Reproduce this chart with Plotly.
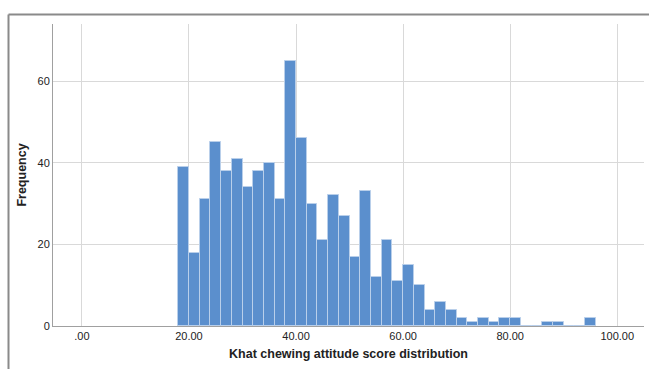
import plotly.graph_objects as go

bin_lefts = [18, 20, 22, 24, 26, 28, 30, 32, 34, 36, 38, 40, 42, 44, 46, 48, 50,
             52, 54, 56, 58, 60, 62, 64, 66, 68, 70, 72, 74, 76, 78, 80, 82, 84,
             86, 88, 90, 92, 94]
counts = [39, 18, 31, 45, 38, 41, 34, 38, 40, 31, 65, 46, 30, 21, 32, 27, 17,
          33, 12, 21, 11, 15, 10, 4, 6, 4, 2, 1, 2, 1, 2, 2, 0, 0,
          1, 1, 0, 0, 2]
bin_width = 2
x_tick_vals = [0, 20, 40, 60, 80, 100]
x_tick_text = [".00", "20.00", "40.00", "60.00", "80.00", "100.00"]
y_tick_vals = [0, 20, 40, 60]

centers = [b + bin_width / 2 for b in bin_lefts]

fig = go.Figure()
fig.add_trace(go.Bar(
    x=centers, y=counts, width=[bin_width] * len(centers),
    marker=dict(color="#5B8FCD", line=dict(color="#B9CFEA", width=1)),
    showlegend=False,
))

W, H = 649, 369
l, r, t, b = 53, 5, 24, 43
pw, ph = W - l - r, H - t - b
fx = (8.5 - l) / pw
fy = (H - b - 14.5) / ph

fig.update_layout(
    width=W, height=H,
    margin=dict(l=l, r=r, t=t, b=b, autoexpand=False),
    paper_bgcolor="white", plot_bgcolor="white",
    font=dict(family="Liberation Sans, Arial, sans-serif", size=11, color="#222"),
    bargap=0,
    xaxis=dict(range=[-5.4, 105], tickvals=x_tick_vals, ticktext=x_tick_text,
               showgrid=True, gridcolor="#D9D9D9", gridwidth=1,
               showline=True, linecolor="#A0A0A0", linewidth=1,
               zeroline=False, ticks="", ticklen=0, automargin=False,
               title=dict(text="<b>Khat chewing attitude score distribution</b>",
                          font=dict(size=12.5, color="#222"), standoff=8)),
    yaxis=dict(range=[0, 74], tickvals=y_tick_vals,
               showgrid=True, gridcolor="#D9D9D9", gridwidth=1,
               showline=True, linecolor="#A0A0A0", linewidth=1,
               zeroline=False, ticks="", automargin=False,
               title=dict(text="<b>Frequency</b>",
                          font=dict(size=12.5, color="#222"), standoff=8)),
    shapes=[
        dict(type="line", xref="paper", yref="paper", x0=fx, x1=1.1, y0=fy, y1=fy,
             line=dict(color="#8A8A8A", width=2)),
        dict(type="line", xref="paper", yref="paper", x0=fx, x1=fx, y0=fy, y1=-0.3,
             line=dict(color="#8A8A8A", width=2)),
    ],
)

fig.write_html("out.html", config={"displayModeBar": False},
               post_script="document.body.style.margin='0';document.body.style.overflow='hidden';")
